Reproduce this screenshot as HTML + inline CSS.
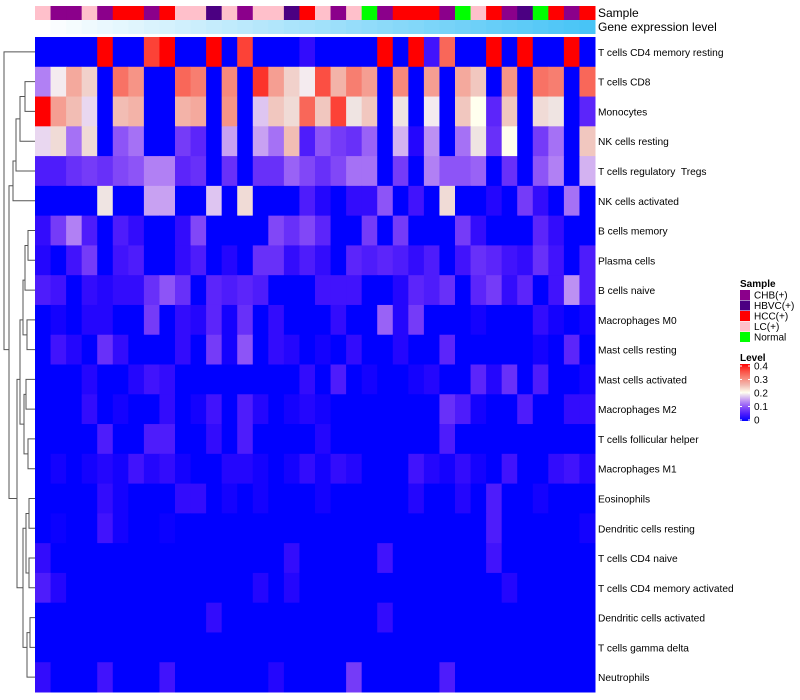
<!DOCTYPE html>
<html><head><meta charset="utf-8">
<style>
body{margin:0;background:#fff;}
svg{display:block;font-family:"Liberation Sans",Arial,sans-serif;}
text{white-space:pre;}
</style></head>
<body>
<svg id="chart" width="800" height="700" xmlns="http://www.w3.org/2000/svg"></svg>
<script>
const rowNames=["T cells CD4 memory resting","T cells CD8","Monocytes","NK cells resting","T cells regulatory  Tregs","NK cells activated","B cells memory","Plasma cells","B cells naive","Macrophages M0","Mast cells resting","Mast cells activated","Macrophages M2","T cells follicular helper","Macrophages M1","Eosinophils","Dendritic cells resting","T cells CD4 naive","T cells CD4 memory activated","Dendritic cells activated","T cells gamma delta","Neutrophils"];
const sampleGroups=["LC(+)","CHB(+)","CHB(+)","LC(+)","CHB(+)","HCC(+)","HCC(+)","CHB(+)","HCC(+)","LC(+)","LC(+)","HBVC(+)","LC(+)","CHB(+)","LC(+)","LC(+)","HBVC(+)","HCC(+)","LC(+)","CHB(+)","LC(+)","Normal","CHB(+)","HCC(+)","HCC(+)","HCC(+)","CHB(+)","Normal","LC(+)","HCC(+)","CHB(+)","HBVC(+)","Normal","HCC(+)","CHB(+)","HCC(+)"];
const legendGroups=["CHB(+)","HBVC(+)","HCC(+)","LC(+)","Normal"];
const levelTicks=[0,0.1,0.2,0.3,0.4];
const r0=[0,0,0,0,.4,0,0,.36,.4,0,0,.4,0,.36,0,0,0,.03, 0,0,0,0,.4,0,.4,.04,.33,0,0,.4,0,.4,0,0,.4,0];
const r1=[.13,.19,.27,.23,0,.32,.29,0,0,.33,.31,0,.3,0,.37,.28,.23,.19, .35,.26,.31,.28,0,.3,0,.28,0,.27,.24,0,.29,0,.32,.31,0,.33];
const r2=[.4,.28,.25,.18,0,.25,.26,0,0,.26,.27,0,.29,0,.17,.24,.22,.33, .24,.36,.21,.24,0,.21,0,.19,0,.24,.2,.06,.24,0,.22,.21,0,.06];
const r3=[.18,.22,.12,.22,0,.1,.12,0,0,.08,.06,0,.15,0,.15,.12,.25,.05, .1,.08,.07,.11,0,.16,.02,.14,0,.12,.21,.07,.2,0,.08,.12,0,.24];
const r4=[.05,.05,.07,.08,.07,.09,.1,.13,.13,.06,.07,0,.07,0,.07,.07,.11,.09, .07,.09,.12,.12,0,.08,0,.13,.1,.1,.11,0,.07,0,.1,.13,0,.16];
const r5=[0,0,0,0,.21,0,0,.15,.15,0,0,.17,0,.22,0,0,0,.05, .02,0,.03,.03,.1,0,.04,0,.22,0,0,.02,0,.08,.03,0,.12,0];
const r6=[.03,.08,.13,.05,0,.05,.03,0,0,.03,.09,0,0,0,0,.09,.07,.09, .06,0,0,.08,0,.08,0,0,0,.08,.03,0,0,0,.06,.03,0,0];
const r7=[.02,0,.04,.08,0,.04,.05,0,0,.03,.05,0,.02,0,.07,.07,.03,.05, .03,0,.06,.05,.06,.05,.03,.05,0,.04,.07,.06,.04,.03,.07,.04,0,.05];
const r8=[.05,.04,0,.03,.02,.03,.03,.07,.1,.07,0,.06,.05,.06,.05,0,0,0, .04,.04,.04,0,0,.02,.06,.05,.07,0,.06,.08,.03,.06,0,.04,.14,.05];
const r9=[0,.01,0,.02,.02,0,0,.08,0,.03,.02,.06,.01,.07,0,.03,0,0, 0,.03,0,0,.11,.02,.08,0,0,0,.01,0,0,0,.03,.01,0,.01];
const r10=[0,.04,.02,0,.07,.03,0,0,0,.03,0,.08,.01,.1,0,.03,.02,0, .01,0,.03,0,0,.02,0,0,.06,0,0,0,0,0,.01,0,.06,0];
const r11=[0,0,0,.02,0,0,.02,.04,.03,0,0,0,0,0,0,0,0,.03, 0,.05,0,.01,0,0,.01,.02,0,0,.06,.02,.07,0,.05,0,0,.01];
const r12=[0,0,0,.03,0,.01,0,0,.03,0,.01,.04,0,.05,.02,0,.01,.02, .01,0,0,0,0,0,0,0,.07,.05,.01,0,0,.05,0,0,.03,.03];
const r13=[0,0,0,0,.05,0,0,.05,.05,0,0,.03,0,.05,0,0,0,0, .02,0,0,0,0,0,0,0,.05,0,0,0,0,0,0,0,0,0];
const r14=[0,.01,0,.01,.02,.01,.04,.02,.03,.01,0,0,.02,.02,.01,0,.01,.03, .01,.03,.02,0,0,0,.04,.02,.01,.03,.01,0,.04,0,0,.03,.04,.02];
const r15=[0,0,0,0,.03,.01,0,0,0,.03,.03,0,.01,0,.01,0,0,0, .01,0,0,0,0,0,.02,0,0,.02,0,.05,0,0,.01,0,0,0];
const r16=[0,.005,0,0,.04,.01,0,0,.005,0,0,0,0,0,0,0,0,0, 0,0,0,0,0,0,0,0,0,0,0,.05,0,0,0,0,0,.01];
const r17=[.03,0,0,0,0,0,0,0,0,0,0,0,0,0,0,0,.03,0, 0,0,0,0,.04,0,0,0,0,0,0,.04,0,0,0,0,0,0];
const r18=[.05,.02,0,0,0,0,0,0,0,0,0,0,0,0,.02,0,.02,0, 0,0,0,0,0,0,0,0,0,0,0,0,.02,0,0,0,0,0];
const r19=[0,0,0,0,0,0,0,0,0,0,0,.03,0,0,0,0,0,0, 0,0,0,0,.03,0,0,0,0,0,0,0,0,0,0,0,0,0];
const r20=[0,0,0,0,0,0,0,0,0,0,0,0,0,0,0,0,0,0, 0,0,0,0,0,0,0,0,0,0,0,0,0,0,0,0,0,0];
const r21=[.03,0,0,0,.04,0,0,0,.04,0,0,0,0,0,0,.02,0,0, 0,0,.08,0,0,0,0,0,.05,0,0,0,0,0,0,0,0,0];
const values=[r0,r1,r2,r3,r4,r5,r6,r7,r8,r9,r10,r11,r12,r13,r14,r15,r16,r17,r18,r19,r20,r21];

const NS="http://www.w3.org/2000/svg";
const svg=document.getElementById('chart');
function mk(tag,attrs,parent){const e=document.createElementNS(NS,tag);for(const k in attrs)e.setAttribute(k,attrs[k]);(parent||svg).appendChild(e);return e;}
const X0=35,X1=595,Y0=37,Y1=692;
const nC=sampleGroups.length,nR=rowNames.length;
const cw=(X1-X0)/nC,rh=(Y1-Y0)/nR;
const xPos=c=>X0+c*cw, yPos=r=>Y0+r*rh;
const groupColor={"CHB(+)":"#8B008B","HBVC(+)":"#4B0082","HCC(+)":"#FF0000","LC(+)":"#FFC0CB","Normal":"#00FF00"};
function colorFor(v){
  const t=Math.max(0,Math.min(0.4,v));
  let r,g,b;
  if(t<=0.2){const s=t/0.2;r=255*Math.pow(s,0.85);g=255*Math.pow(s,1.6);b=255-(255-238)*s;}
  else{const s=(t-0.2)/0.2;r=238+(255-238)*s;g=238*Math.pow(1-s,0.8);b=g*(1-0.2*s);}
  return `rgb(${Math.round(r)},${Math.round(g)},${Math.round(b)})`;
}
const scol=mk('g',{},svg);


sampleGroups.forEach((g,c)=>{
  const el=mk('rect',{x:xPos(c),y:6,width:cw+0.5,height:14,fill:groupColor[g]},scol);
  
  
});
const gcol=mk('g',{},svg);


for(let c=0;c<nC;c++){
  const s=c/(nC-1);
  const r=Math.round(255+(72-255)*s),g=Math.round(255+(196-255)*s),b=Math.round(255+(246-255)*s);
  const el=mk('rect',{x:xPos(c),y:20,width:cw+0.5,height:14,fill:`rgb(${r},${g},${b})`},gcol);
  
  
}
const hm=mk('g',{},svg);


values.forEach((row,r)=>row.forEach((v,c)=>{
  const el=mk('rect',{x:xPos(c),y:yPos(r),width:cw+0.5,height:rh+0.5,fill:colorFor(v)},hm);
  
  
}));
rowNames.forEach((n,r)=>{
  const t=mk('text',{x:598,y:yPos(r)+rh/2+4,'font-size':10.2,fill:'#000'});
  t.textContent=n;
  
  
});
let t=mk('text',{x:598,y:17,'font-size':12});t.textContent='Sample';


t=mk('text',{x:598,y:31,'font-size':12});t.textContent='Gene expression level';



// dendrogram
const rc=r=>yPos(r)+rh/2;
const dg=mk('g',{stroke:'#555','stroke-width':1,fill:'none'},svg);


function link(xh,y1,y2,x1,x2){mk('path',{d:`M${x1},${y1}H${xh}V${y2}H${x2}`},dg);}
link(25,rc(1),rc(2),35,35);
link(20,(rc(1)+rc(2))/2,rc(3),25,35);
link(16,(rc(1)+rc(2)+rc(3)*2)/4,rc(4),20,35);
link(13,rc(4)-10,rc(5),16,35);
link(28,rc(6),rc(7),35,35);
link(25,rc(6)+15,rc(8),28,35);
link(27,rc(9),rc(10),35,35);
link(23,rc(8)-10,rc(9)+15,25,27);
link(26,rc(11),rc(12),35,35);
link(28,rc(13),rc(14),35,35);
link(24,rc(11)+15,rc(13)+15,26,28);
link(20,rc(9),rc(12)+15,23,24);
link(29,rc(15),rc(16),35,35);
link(29,rc(17),rc(18),35,35);
link(26,rc(15)+15,rc(17)+15,29,29);
link(30,rc(19),rc(20),35,35);
link(27,rc(19)+15,rc(21),30,35);
link(23,rc(16),rc(20),26,27);
link(17,rc(11),rc(18),20,23);
link(9,rc(5)-15,rc(15),13,17);
link(4,rc(0),rc(10),35,9);

// legend
const lg=mk('g',{},svg);


t=mk('text',{x:740,y:287,'font-size':10,'font-weight':'bold'},lg);t.textContent='Sample';
legendGroups.forEach((g,i)=>{
  const y=290+i*10.5;
  const sw=mk('rect',{x:740,y:y,width:10,height:10,fill:groupColor[g]},lg);
  
  
  const tx=mk('text',{x:754,y:y+8.5,'font-size':10},lg);tx.textContent=g;
  
  
});
const cl=mk('g',{},svg);


t=mk('text',{x:740,y:361,'font-size':10,'font-weight':'bold'},cl);t.textContent='Level';
const defs=mk('defs',{},svg);
const grad=mk('linearGradient',{id:'lv',x1:0,y1:1,x2:0,y2:0},defs);
for(let i=0;i<=8;i++){mk('stop',{offset:i/8,'stop-color':colorFor(0.4*i/8)},grad);}
const gy0=364,gy1=421;
mk('rect',{x:740,y:gy0,width:10,height:gy1-gy0,fill:'url(#lv)'},cl);
levelTicks.forEach(v=>{
  const y=gy1-(v/0.4)*(gy1-gy0-3)-1;
  mk('line',{x1:740,x2:742,y1:y,y2:y,stroke:'#fff'},cl);
  mk('line',{x1:748,x2:750,y1:y,y2:y,stroke:'#fff'},cl);
  const tx=mk('text',{x:754,y:y+3.5,'font-size':10},cl);tx.textContent=String(v);
  
  
});
</script>
</body></html>
